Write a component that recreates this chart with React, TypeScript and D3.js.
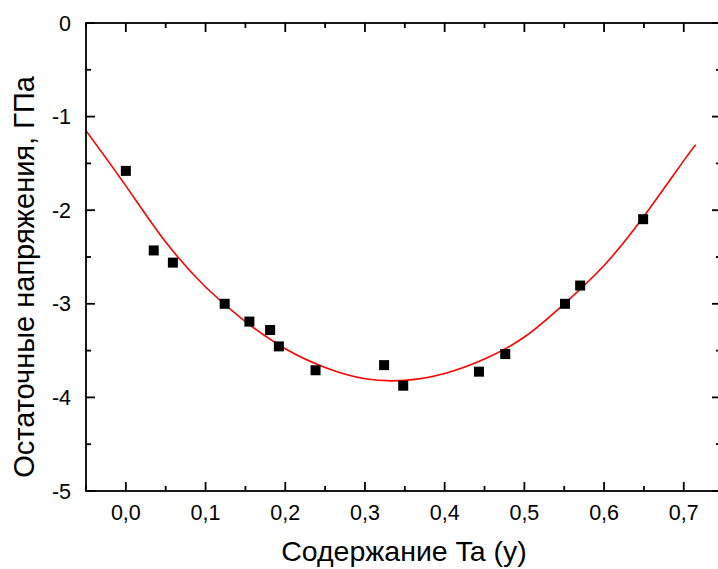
import React from "react";
import * as d3 from "d3";

const W = 718;
const H = 569;

// measured points: Ta content (y) vs residual stress, GPa
const pointX = [0.0, 0.035, 0.059, 0.124, 0.155, 0.181, 0.192, 0.238, 0.324, 0.348, 0.443, 0.476, 0.551, 0.570, 0.649];
const pointY = [-1.58, -2.43, -2.56, -3.0, -3.19, -3.28, -3.455, -3.71, -3.655, -3.875, -3.725, -3.537, -3.0, -2.805, -2.096];

// fitted curve
const curveX = [-0.05, 0.0, 0.05, 0.1, 0.15, 0.2, 0.25, 0.3, 0.35, 0.4, 0.45, 0.5, 0.55, 0.6, 0.65, 0.7, 0.715];
const curveY = [-1.15, -1.74, -2.34, -2.82, -3.19, -3.48, -3.68, -3.80, -3.818, -3.745, -3.59, -3.355, -3.0, -2.59, -2.065, -1.47, -1.30];

const xMajor = [0.0, 0.1, 0.2, 0.3, 0.4, 0.5, 0.6, 0.7];
const xMinor = [-0.05, 0.05, 0.15, 0.25, 0.35, 0.45, 0.55, 0.65];
const yMajor = [0, -1, -2, -3, -4, -5];
const yMinor = [-0.5, -1.5, -2.5, -3.5, -4.5];

const xTitle = "Содержание Ta (y)";
const yTitle = "Остаточные напряжения, ГПа";

export default function App() {
  const left = 86, right = 721, top = 23, bottom = 491;
  const x = d3.scaleLinear().domain([-0.05, 0.7467]).range([left, right]);
  const y = d3.scaleLinear().domain([-5, 0]).range([bottom, top]);
  const line = d3
    .line<number>()
    .x((_, i) => x(curveX[i]))
    .y((d) => y(d))
    .curve(d3.curveNatural);
  const font = "Arial, 'Liberation Sans', sans-serif";
  const sw = 1.8;
  const fmt = (v: number) => v.toFixed(1).replace(".", ",");
  return (
    <svg width={W} height={H} style={{ position: "absolute", left: 0, top: 0 }} fontFamily={font}>
      <rect x={0} y={0} width={W} height={H} fill="#fff" />
      <defs>
        <clipPath id="plot">
          <rect x={left} y={top} width={right - left} height={bottom - top} />
        </clipPath>
      </defs>
      <path d={line(curveY) || ""} fill="none" stroke="#ff0000" strokeWidth={1.6} clipPath="url(#plot)" />
      {pointX.map((px, i) => (
        <rect key={i} x={x(px) - 5} y={y(pointY[i]) - 5} width={10} height={10} fill="#000" />
      ))}
      {/* frame */}
      <rect x={left} y={top} width={right - left} height={bottom - top} fill="none" stroke="#000" strokeWidth={sw} />
      {/* x ticks */}
      {xMajor.map((v) => (
        <g key={"xm" + v}>
          <line x1={x(v)} x2={x(v)} y1={bottom} y2={bottom - 9} stroke="#000" strokeWidth={sw} />
          <line x1={x(v)} x2={x(v)} y1={top} y2={top + 9} stroke="#000" strokeWidth={sw} />
          <text x={x(v)} y={519.5} textAnchor="middle" fontSize={21.5}>{fmt(v)}</text>
        </g>
      ))}
      {xMinor.map((v) => (
        <g key={"xn" + v}>
          <line x1={x(v)} x2={x(v)} y1={bottom} y2={bottom - 5} stroke="#000" strokeWidth={sw} />
          <line x1={x(v)} x2={x(v)} y1={top} y2={top + 5} stroke="#000" strokeWidth={sw} />
        </g>
      ))}
      {yMajor.map((v) => (
        <g key={"ym" + v}>
          <line x1={left} x2={left + 9} y1={y(v)} y2={y(v)} stroke="#000" strokeWidth={sw} />
          <line x1={right} x2={right - 9} y1={y(v)} y2={y(v)} stroke="#000" strokeWidth={sw} />
          <text x={71} y={y(v) + 7.5} textAnchor="end" fontSize={21.5}>{String(v)}</text>
        </g>
      ))}
      {yMinor.map((v) => (
        <g key={"yn" + v}>
          <line x1={left} x2={left + 5} y1={y(v)} y2={y(v)} stroke="#000" strokeWidth={sw} />
          <line x1={right} x2={right - 5} y1={y(v)} y2={y(v)} stroke="#000" strokeWidth={sw} />
        </g>
      ))}
      <text x={404} y={561} textAnchor="middle" fontSize={28.5}>{xTitle}</text>
      <text transform={`translate(34,277) rotate(-90)`} textAnchor="middle" fontSize={29}>{yTitle}</text>
    </svg>
  );
}
